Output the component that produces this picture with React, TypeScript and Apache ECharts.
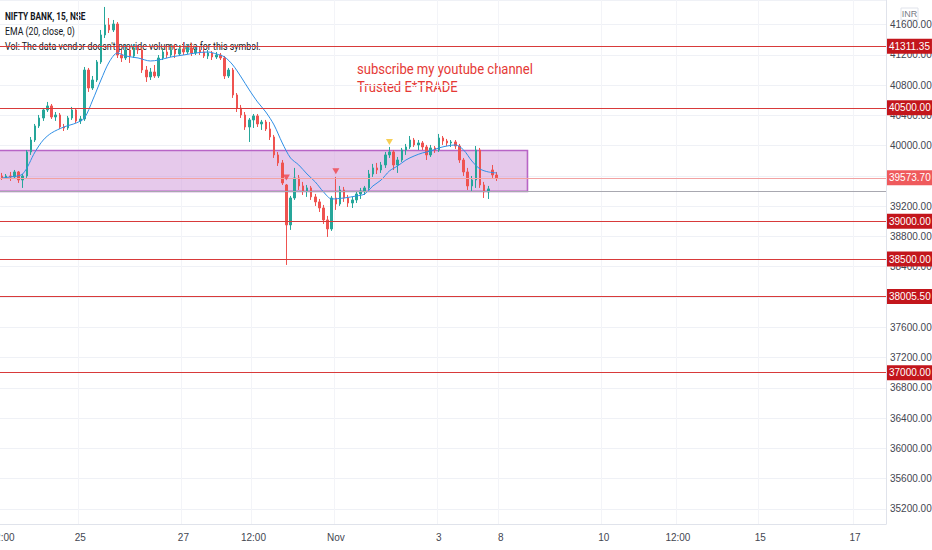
import React, { useEffect, useRef } from 'react';
import * as echarts from 'echarts';

// ---------- data ----------
const SLOT_COUNT = 215; // time slots across the x axis (data + future space)
const xTickIndex = [0, 19, 44, 61, 81, 106, 121, 146, 164, 184, 207];
const xTickText = ['12:00', '25', '27', '12:00', 'Nov', '3', '8', '10', '12:00', '15', '17'];

// [open, close, low, high]
const candles: number[][] = [
  [39599, 39573, 39546, 39639], [39573, 39599, 39559, 39625], [39599, 39586, 39533, 39652], [39586, 39652, 39573, 39678],
  [39652, 39546, 39507, 39665], [39546, 39599, 39441, 39625], [39599, 39916, 39573, 39942], [39916, 40074, 39877, 40114],
  [40074, 40260, 40048, 40286], [40260, 40365, 40233, 40405], [40365, 40471, 40326, 40497], [40471, 40524, 40444, 40577],
  [40524, 40378, 40352, 40550], [40378, 40405, 40326, 40444], [40405, 40246, 40220, 40431], [40246, 40233, 40193, 40286],
  [40233, 40365, 40207, 40392], [40365, 40471, 40339, 40511], [40471, 40326, 40299, 40497], [40326, 40352, 40286, 40392],
  [40352, 40999, 40326, 41039], [40999, 40761, 40709, 41026], [40761, 40867, 40735, 40920], [40867, 41105, 40841, 41131],
  [41105, 41462, 41079, 41528], [41462, 41594, 41422, 41832], [41594, 41528, 41488, 41686], [41528, 41607, 41501, 41660],
  [41607, 41197, 41158, 41633], [41197, 41158, 41105, 41263], [41158, 41263, 41131, 41330], [41263, 41184, 41092, 41303],
  [41184, 41290, 41158, 41343], [41290, 41263, 41211, 41330], [41263, 40999, 40960, 41290], [40999, 40907, 40841, 41052],
  [40907, 40973, 40867, 41026], [40973, 40920, 40894, 41065], [40920, 41158, 40894, 41197], [41158, 41237, 41131, 41290],
  [41237, 41197, 41158, 41316], [41197, 41263, 41171, 41330], [41263, 41211, 41158, 41343], [41211, 41277, 41184, 41330],
  [41277, 41237, 41197, 41369], [41237, 41290, 41211, 41343], [41290, 41224, 41184, 41356], [41224, 41263, 41197, 41316],
  [41263, 41237, 41197, 41316], [41237, 41184, 41158, 41290], [41184, 41224, 41145, 41263], [41224, 41171, 41131, 41250],
  [41171, 41197, 41145, 41237], [41197, 41158, 41131, 41224], [41158, 40920, 40880, 41184], [40920, 40999, 40894, 41026],
  [40999, 40669, 40630, 41026], [40669, 40497, 40444, 40695], [40497, 40405, 40365, 40537], [40405, 40246, 40207, 40444],
  [40246, 40339, 40048, 40365], [40339, 40392, 40233, 40418], [40392, 40286, 40246, 40418], [40286, 40312, 40207, 40339],
  [40312, 40220, 40193, 40339], [40220, 40114, 40074, 40312], [40114, 39877, 39837, 40141], [39877, 39771, 39731, 39916],
  [39771, 39507, 39480, 39810], [39480, 38952, 38423, 39493], [38952, 39308, 38886, 39335], [39308, 39573, 39282, 39705],
  [39573, 39467, 39414, 39612], [39467, 39401, 39348, 39520], [39401, 39441, 39322, 39480], [39441, 39322, 39282, 39467],
  [39322, 39256, 39203, 39361], [39256, 39176, 39123, 39295], [39176, 39018, 38965, 39216], [39018, 38899, 38793, 39071],
  [38899, 39308, 38873, 39335], [39308, 39229, 39150, 39586], [39229, 39414, 39203, 39467], [39414, 39308, 39256, 39454],
  [39308, 39242, 39189, 39348], [39242, 39282, 39176, 39322], [39282, 39361, 39242, 39401], [39361, 39401, 39295, 39441],
  [39401, 39441, 39348, 39467], [39441, 39625, 39414, 39678], [39625, 39705, 39586, 39758], [39705, 39678, 39625, 39771],
  [39678, 39744, 39639, 39784], [39744, 39877, 39705, 39916], [39877, 39916, 39837, 39982], [39916, 39744, 39678, 39942],
  [39744, 39810, 39639, 39850], [39810, 39942, 39784, 39969], [39942, 39982, 39877, 40022], [39982, 40074, 39956, 40127],
  [40074, 40009, 39982, 40101], [40009, 40035, 39942, 40074], [40035, 39982, 39942, 40061], [39982, 39877, 39810, 40009],
  [39877, 39969, 39850, 40009], [39969, 39942, 39903, 39995], [39942, 40101, 39916, 40154], [40101, 40061, 40009, 40127],
  [40061, 40035, 39995, 40088], [40035, 40048, 39982, 40074], [40048, 39995, 39956, 40074], [39995, 39810, 39771, 40022],
  [39810, 39652, 39599, 39837], [39652, 39467, 39414, 39705], [39467, 39546, 39401, 39599], [39546, 39942, 39441, 39995],
  [39942, 39480, 39441, 39969], [39480, 39388, 39308, 39520], [39388, 39428, 39295, 39467], [39678, 39612, 39573, 39744],
  [39612, 39573.7, 39533, 39652],
];

// EMA (20, close): slot index / value
const emaIndex = [0, 2, 5, 8, 10, 12, 15, 18, 20, 22, 24, 26, 28, 30, 33, 36, 38, 41, 44, 47, 50, 52, 54, 56, 58, 60, 62, 64, 66, 68, 70, 72, 74, 76, 78, 80, 83, 86, 88, 90, 92, 94, 96, 98, 100, 102, 104, 106, 108, 110, 112, 114, 116, 118, 120];
const emaValue = [39573, 39586, 39625, 39916, 40074, 40167, 40246, 40299, 40365, 40603, 40867, 41105, 41224, 41184, 41158, 41118, 41131, 41171, 41197, 41224, 41237, 41211, 41171, 41065, 40907, 40735, 40577, 40444, 40273, 40035, 39837, 39744, 39625, 39520, 39388, 39295, 39308, 39335, 39361, 39467, 39546, 39665, 39731, 39810, 39863, 39903, 39929, 39969, 39995, 40009, 39942, 39797, 39691, 39652, 39639];

// horizontal levels
const levelLines = [41311.35, 40500, 39000, 38500, 38005.5, 37000];
const lastPrice = 39573.7;
const zoneLine = 39400;
// rectangle zone: [fromSlot, toSlot, top, bottom]
const zone = [[0, 128, 39935, 39395]];

// signal markers: [slot, price]
const redSignals = [[69, 39580], [81, 39660]];
const yellowSignals = [[94, 40048]];

const legendLines = ['NIFTY BANK, 15, NSE', 'EMA (20, close, 0)', "Vol: The data vendor doesn't provide volume data for this symbol."];
const noteLines = ['subscribe my youtube channel', 'Trusted E*TRADE'];

// ---------- styling ----------
const AXIS_FONT = "'Liberation Sans', Arial, sans-serif";
const UP = '#26a69a';
const DOWN = '#ef5350';
const LEVEL = '#d83a3a';

const tickMap: Record<number, string> = {};
xTickIndex.forEach((i, k) => { tickMap[i] = xTickText[k]; });
const categories = Array.from({ length: SLOT_COUNT }, (_, i) => String(i));

const levelLabel = (bg: string) => ({
  show: true,
  position: 'end',
  distance: 1,
  formatter: (p: any) => Number(p.value).toFixed(2),
  backgroundColor: bg,
  color: '#ffffff',
  padding: [3, 2, 2, 2],
  fontSize: 10,
  fontFamily: AXIS_FONT,
});

export default function App() {
  const ref = useRef<HTMLDivElement>(null);
  useEffect(() => {
    const chart = echarts.init(ref.current!, null, { renderer: 'svg' });
    const option: any = {
      animation: false,
      backgroundColor: '#ffffff',
      grid: { left: 0, right: 46, top: 0, bottom: 26, containLabel: false, outerBoundsMode: 'none' },
      xAxis: {
        type: 'category',
        data: categories,
        boundaryGap: true,
        axisLine: { show: true, lineStyle: { color: '#e0e3eb' } },
        axisTick: { show: false },
        axisLabel: {
          interval: 0,
          margin: 8,
          color: '#434651',
          fontSize: 10,
          fontFamily: AXIS_FONT,
          formatter: (v: string) => tickMap[Number(v)] ?? '',
        },
        splitLine: {
          show: true,
          interval: (i: number) => tickMap[i] !== undefined && i > 0,
          lineStyle: { color: '#f3f4f8' },
        },
      },
      yAxis: {
        type: 'value',
        position: 'right',
        min: 35000,
        max: 41924,
        interval: 200,
        axisLine: { show: true, lineStyle: { color: '#e0e3eb' } },
        axisTick: { show: false },
        axisLabel: {
          margin: 4,
          color: '#434651',
          fontSize: 10,
          fontFamily: AXIS_FONT,
          formatter: (v: number) => ((Math.round(v) - 35200) % 400 === 0 ? v.toFixed(2) : ''),
        },
        splitLine: { show: true, lineStyle: { color: ['rgba(0,0,0,0)', '#eff1f6'] } },
      },
      series: [
        {
          type: 'custom',
          z: 1,
          silent: true,
          data: zone,
          encode: { x: [0, 1], y: [2, 3] },
          renderItem: (params: any, api: any) => {
            const x0 = api.value(0);
            const x1 = api.value(1);
            const p0 = api.coord([x0, api.value(2)]);
            const p1 = api.coord([x1, api.value(3)]);
            const half = api.size([1, 0])[0] / 2;
            const left = x0 <= 0 ? params.coordSys.x - 3 : p0[0] - half;
            const right = p1[0] - half;
            return {
              type: 'rect',
              shape: { x: left, y: p0[1], width: right - left, height: p1[1] - p0[1] },
              style: { fill: 'rgba(206,147,216,0.5)', stroke: '#b865c6', lineWidth: 1.6 },
            };
          },
        },
        {
          type: 'candlestick',
          z: 3,
          data: candles,
          barWidth: 2,
          itemStyle: { color: UP, color0: DOWN, borderColor: UP, borderColor0: DOWN, borderWidth: 1 },
          markLine: {
            silent: true,
            symbol: ['none', 'none'],
            precision: 2,
            data: [
              { yAxis: zoneLine, lineStyle: { color: '#a8a8b0', width: 1, type: 'solid' }, label: { show: false } },
              ...levelLines.map((v) => ({ yAxis: v, lineStyle: { color: LEVEL, width: 1, type: 'solid' }, label: levelLabel('#c3161c') })),
              { yAxis: lastPrice, lineStyle: { color: '#f2a2a2', width: 1, type: 'solid' }, label: levelLabel('#ef5a5c') },
            ],
          },
        },
        {
          type: 'line',
          z: 4,
          data: emaIndex.map((i, k) => [i, emaValue[k]]),
          showSymbol: false,
          smooth: 0.3,
          lineStyle: { color: '#2f8fe6', width: 1 },
        },
        {
          type: 'scatter',
          z: 5,
          data: redSignals,
          symbol: 'triangle',
          symbolRotate: 180,
          symbolSize: [7, 6],
          itemStyle: { color: '#f0434a' },
        },
        {
          type: 'scatter',
          z: 5,
          data: yellowSignals,
          symbol: 'triangle',
          symbolRotate: 180,
          symbolSize: [7, 6],
          itemStyle: { color: '#f5c32a' },
        },
      ],
      graphic: [
        { type: 'text', x: 5, y: 16, scaleX: 0.72, style: { text: legendLines[0], fill: '#131722', fontSize: 11.5, fontWeight: 'bold', fontFamily: 'Roboto', verticalAlign: 'middle' } },
        { type: 'text', x: 5, y: 31, scaleX: 0.76, style: { text: legendLines[1], fill: '#131722', fontSize: 11.5, fontFamily: 'Roboto', verticalAlign: 'middle' } },
        { type: 'text', x: 5, y: 46, scaleX: 0.77, style: { text: legendLines[2], fill: '#131722', fontSize: 11.5, fontFamily: 'Roboto', verticalAlign: 'middle' } },
        { type: 'text', x: 357, y: 69, scaleX: 0.87, style: { text: noteLines[0], fill: '#e53935', fontSize: 15, fontFamily: 'Roboto', verticalAlign: 'middle' } },
        { type: 'text', x: 357, y: 87, scaleX: 0.87, style: { text: noteLines[1], fill: '#e53935', fontSize: 15, fontFamily: 'Roboto', verticalAlign: 'middle' } },
        { type: 'rect', x: 901, y: 8, shape: { x: 0, y: 0, width: 17, height: 12 }, style: { fill: '#ffffff', stroke: '#e0e3eb', lineWidth: 1 } },
        { type: 'text', x: 909.5, y: 14, style: { text: 'INR', fill: '#787b86', fontSize: 9, fontFamily: AXIS_FONT, align: 'center', verticalAlign: 'middle' } },
      ],
    };
    chart.setOption(option);
    return () => chart.dispose();
  }, []);
  return <div ref={ref} style={{ position: 'absolute', left: 0, top: 0, width: 932, height: 550, background: '#ffffff' }} />;
}
